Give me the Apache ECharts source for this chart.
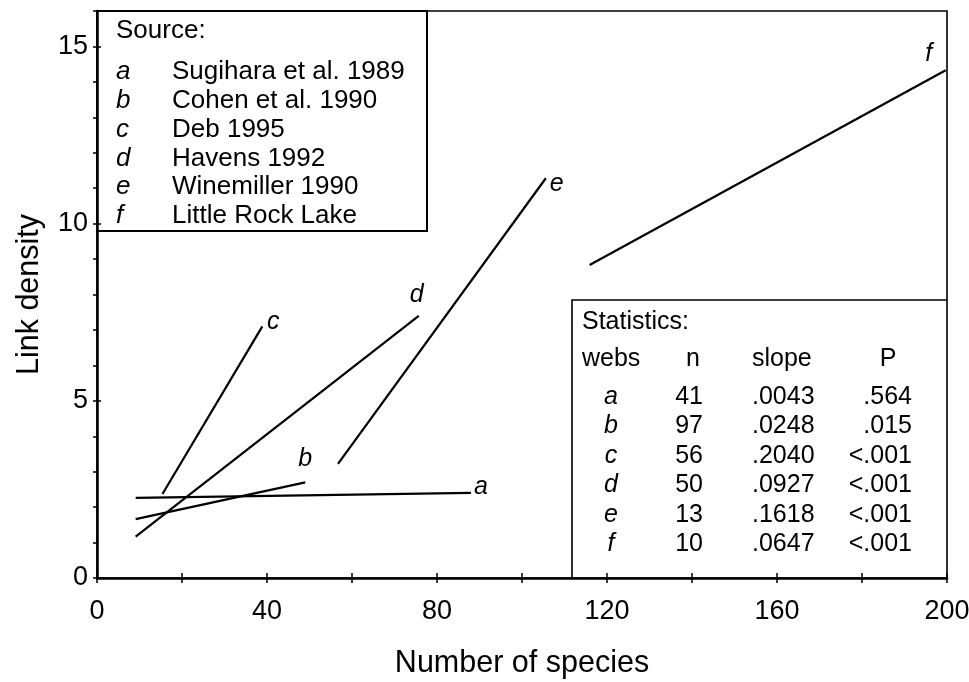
<!DOCTYPE html>
<html>
<head>
<meta charset="utf-8">
<script src="https://cdn.jsdelivr.net/npm/echarts@6/dist/echarts.min.js"></script>
<style>
  html, body { margin: 0; padding: 0; background: #fff; overflow: hidden; }
  #chart { width: 969px; height: 682px; }
</style>
</head>
<body>
<div id="chart"></div>
<script>
// Regression lines of link density against number of species, one per web set
const webLetters = ['a', 'b', 'c', 'd', 'e', 'f'];
const xStart = [9.1, 9.1, 15.4, 9.1, 56.7, 115.9];
const yStart = [2.26, 1.66, 2.37, 1.17, 3.22, 8.83];
const xEnd   = [88.0, 49.0, 38.9, 75.7, 105.6, 199.7];
const yEnd   = [2.40, 2.70, 7.10, 7.40, 11.28, 14.33];

// Sources of the food webs
const sourceNames = ['Sugihara et al. 1989', 'Cohen et al. 1990', 'Deb 1995',
                     'Havens 1992', 'Winemiller 1990', 'Little Rock Lake'];

// Regression statistics
const statHeader = ['webs', 'n', 'slope', 'P'];
const statN     = ['41', '97', '56', '50', '13', '10'];
const statSlope = ['.0043', '.0248', '.2040', '.0927', '.1618', '.0647'];
const statP     = ['.564', '.015', '<.001', '<.001', '<.001', '<.001'];

// Axis extents
const xMin = 0, xMax = 200, xTickStep = 20, xLabelStep = 40;
const yMin = 0, yMax = 16, yTickStep = 1, yLabelStep = 5;

// Where each end letter sits relative to the end of its line (px)
const letterOffsets = [[10, -6], [0, -23], [11, -4], [-2, -21], [11, 6], [-17, -16]];

const FONT = 'Liberation Sans, Arial, sans-serif';
const W = 969, H = 682;
const gridLeft = 97, gridRight = 22, gridTop = 11, gridBottom = 104;
const plotRight = W - gridRight, plotBottom = H - gridBottom;

const chart = echarts.init(document.getElementById('chart'), null, { renderer: 'canvas' });

const series = webLetters.map((w, i) => ({
  type: 'line',
  name: w,
  xAxisIndex: 0,
  yAxisIndex: 0,
  data: [
    [xStart[i], yStart[i]],
    {
      value: [xEnd[i], yEnd[i]],
      label: {
        show: true, formatter: w, position: 'inside', offset: letterOffsets[i],
        color: '#000', fontFamily: FONT, fontStyle: 'italic', fontSize: 25
      }
    }
  ],
  symbol: 'circle',
  symbolSize: 1,
  showSymbol: true,
  itemStyle: { color: 'rgba(0,0,0,0)' },
  lineStyle: { color: '#000', width: 2.2 },
  label: { show: false, color: '#000' },
  emphasis: { disabled: true },
  silent: true,
  animation: false,
  z: 3
}));

// Legend box of sources (top left) and statistics table (bottom right)
const graphics = [];
const srcRight = 427, srcBottom = 231;
graphics.push({
  type: 'rect', shape: { x: gridLeft, y: gridTop, width: srcRight - gridLeft, height: srcBottom - gridTop },
  style: { fill: 'transparent', stroke: '#000', lineWidth: 2 }, z: 10, silent: true
});
graphics.push({
  type: 'text', x: 116, y: 31, z: 11, silent: true,
  style: { text: 'Source:', font: '26px ' + FONT, fill: '#000', textVerticalAlign: 'middle' }
});
sourceNames.forEach((name, i) => {
  const y = 72 + i * 28.8;
  graphics.push({
    type: 'text', x: 116, y: y, z: 11, silent: true,
    style: { text: webLetters[i], font: 'italic 26px ' + FONT, fill: '#000', textVerticalAlign: 'middle' }
  });
  graphics.push({
    type: 'text', x: 172, y: y, z: 11, silent: true,
    style: { text: name, font: '26px ' + FONT, fill: '#000', textVerticalAlign: 'middle' }
  });
});

const stLeft = 572, stTop = 300;
graphics.push({
  type: 'polyline',
  shape: { points: [[stLeft, plotBottom], [stLeft, stTop], [plotRight, stTop]] },
  style: { fill: null, stroke: '#000', lineWidth: 1.6 }, z: 10, silent: true
});
graphics.push({
  type: 'text', x: 582, y: 322, z: 11, silent: true,
  style: { text: 'Statistics:', font: '25px ' + FONT, fill: '#000', textVerticalAlign: 'middle' }
});
const headX = [582, 693, 752, 888];
const headAlign = ['left', 'center', 'left', 'center'];
statHeader.forEach((h, j) => {
  graphics.push({
    type: 'text', x: headX[j], y: 359, z: 11, silent: true,
    style: { text: h, font: '25px ' + FONT, fill: '#000', textAlign: headAlign[j], textVerticalAlign: 'middle' }
  });
});
webLetters.forEach((w, i) => {
  const y = 397 + i * 29.5;
  const cells = [
    { t: w, x: 611, a: 'center', f: 'italic 25px ' + FONT },
    { t: statN[i], x: 703, a: 'right', f: '25px ' + FONT },
    { t: statSlope[i], x: 752, a: 'left', f: '25px ' + FONT },
    { t: statP[i], x: 912, a: 'right', f: '25px ' + FONT }
  ];
  cells.forEach(c => graphics.push({
    type: 'text', x: c.x, y: y, z: 11, silent: true,
    style: { text: c.t, font: c.f, fill: '#000', textAlign: c.a, textVerticalAlign: 'middle' }
  }));
});

const tickStyle = { color: '#000', width: 1.5 };

chart.setOption({
  animation: false,
  backgroundColor: '#fff',
  grid: {
    left: gridLeft, right: gridRight, top: gridTop, bottom: gridBottom,
    outerBoundsMode: 'none', containLabel: false,
    show: true, borderColor: '#000', borderWidth: 1.6, backgroundColor: 'transparent'
  },
  xAxis: [
    {
      type: 'value', min: xMin, max: xMax, interval: xTickStep, position: 'bottom',
      axisLine: { show: true, onZero: false, lineStyle: { color: '#000', width: 2.5 } },
      axisTick: { show: true, length: 5, lineStyle: tickStyle },
      axisLabel: {
        formatter: v => (v % xLabelStep === 0 ? String(v) : ''),
        fontFamily: FONT, fontSize: 27, color: '#000', margin: 20
      },
      splitLine: { show: false },
      name: 'Number of species', nameLocation: 'middle', nameGap: 70,
      nameTextStyle: { fontFamily: FONT, fontSize: 30.5, color: '#000' }
    },
    {
      type: 'value', min: xMin, max: xMax, interval: xTickStep, position: 'bottom',
      axisLine: { show: false, onZero: false },
      axisTick: { show: true, inside: true, length: 5, lineStyle: tickStyle },
      axisLabel: { show: false },
      splitLine: { show: false }
    }
  ],
  yAxis: [
    {
      type: 'value', min: yMin, max: yMax, interval: yTickStep, position: 'left',
      axisLine: { show: true, onZero: false, lineStyle: { color: '#000', width: 2.5 } },
      axisTick: { show: true, length: 4, lineStyle: tickStyle },
      axisLabel: {
        formatter: v => (v % yLabelStep === 0 ? String(v) : ''),
        fontFamily: FONT, fontSize: 27, color: '#000', margin: 9
      },
      splitLine: { show: false },
      name: 'Link density', nameLocation: 'middle', nameGap: 52, nameRotate: 90,
      nameTextStyle: { fontFamily: FONT, fontSize: 30.5, color: '#000' }
    },
    {
      type: 'value', min: yMin, max: yMax, interval: yLabelStep, position: 'left',
      axisLine: { show: false, onZero: false },
      axisTick: { show: true, inside: true, length: 4, lineStyle: tickStyle },
      axisLabel: { show: false },
      splitLine: { show: false }
    }
  ],
  series: series,
  graphic: graphics
});
</script>
</body>
</html>
